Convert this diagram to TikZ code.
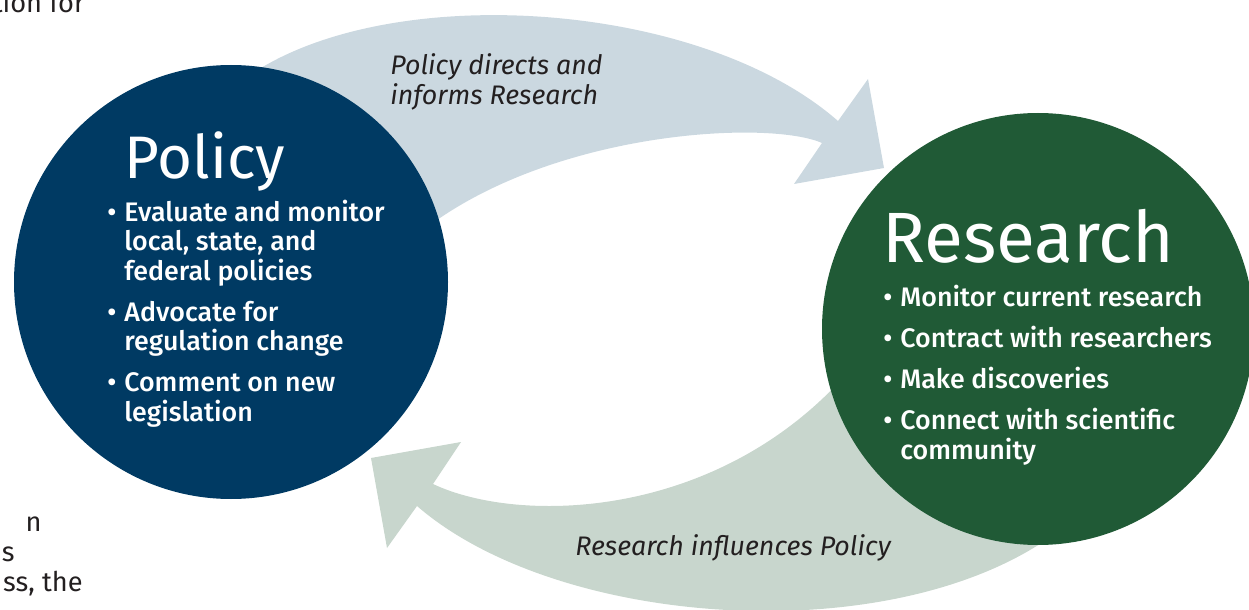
\documentclass[tikz,border=0pt]{standalone}
\usepackage{fontspec}
\setmainfont{Fira Sans}
\newfontfamily\medfont{Fira Sans Medium}
\usetikzlibrary{positioning}
\definecolor{policyblue}{RGB}{0,58,99}
\definecolor{researchgreen}{RGB}{32,90,54}
\definecolor{topband}{RGB}{203,216,224}
\definecolor{lowband}{RGB}{200,214,205}
\definecolor{inkgray}{RGB}{35,31,32}
\tikzset{
  hub/.style       = {circle, inner sep=0pt},
  hubtitle/.style  = {text=white, inner sep=0pt, anchor=base west},
  % multi-line nodes: base is the baseline of the last line
  items/.style     = {text=white, align=left, inner sep=0pt, anchor=base west,
                      font=\medfont\fontsize{13.4}{14.75}\selectfont},
  flowlabel/.style = {text=inkgray, align=left, inner sep=0pt, anchor=base west,
                      font=\itshape\fontsize{13.4}{15}\selectfont},
  pagetext/.style  = {text=inkgray, inner sep=0pt, anchor=base east,
                      font=\fontsize{13.6}{15}\selectfont},
}
\newcommand{\bul}{\llap{\textbullet\hspace{4pt}}}

\begin{document}
\begin{tikzpicture}[x=0.5pt,y=-0.5pt]
\useasboundingbox (0,0) rectangle (1249,610);
% running text of the page
\node[pagetext] (pg1) at (85,13) {tion for};
\node[pagetext] (pg2) at (42,531) {n};
\node[pagetext] (pg3) at (15,561) {s};
\node[pagetext] (pg4) at (83,591) {ss, the};

% upper band: policy -> research
\fill[topband] (250,75) .. controls (390,-20) and (700,0) .. (838,121)
  -- (868,79) -- (884,168) -- (794,184) -- (822,143)
  .. controls (770,120) and (560,130) .. (430,225) -- (300,200) -- cycle;
% lower band: research -> policy
\fill[lowband] (1060,530) .. controls (900,652) and (560,630) .. (417,506)
  -- (387,548) -- (371,458) -- (461,442) -- (433,484)
  .. controls (520,525) and (720,520) .. (850,370) -- cycle;

\node[hub, fill=policyblue, minimum size=217pt] (policy) at (231,282) {};
\node[hub, fill=researchgreen, minimum size=216pt] (research) at (1038,329) {};

\node[hubtitle, font=\fontsize{30}{36}\selectfont] (ptitle) at (124,179) {Policy};
\node[items] (plist) at (124,421) {\bul Evaluate and monitor\\
  local, state, and\\ federal policies\\[5.75pt]
  \bul Advocate for\\ regulation change\\[5.75pt]
  \bul Comment on new\\ legislation};

\node[hubtitle, font=\fontsize{35.6}{42}\selectfont] (rtitle) at (882,263) {Research};
\node[items] (rlist) at (900,459) {\bul Monitor current research\\[5.75pt]
  \bul Contract with researchers\\[5.75pt]
  \bul Make discoveries\\[5.75pt]
  \bul Connect with scientific\\ community};

\node[flowlabel] (pdir) at (390,105) {Policy directs and\\ informs Research};
\node[flowlabel] (rinf) at (575,555) {Research influences Policy};
\end{tikzpicture}
\end{document}
